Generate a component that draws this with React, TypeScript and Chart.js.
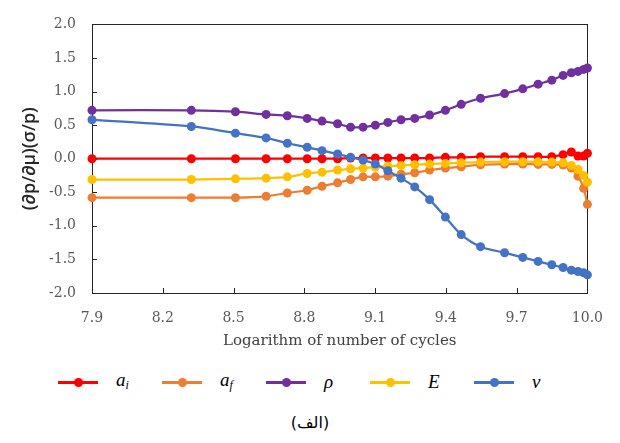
import { useEffect, useRef } from "react";
import { Chart, registerables } from "chart.js";

Chart.register(...registerables);

// ---- data ----
const cycles = [7.9, 8.321, 8.508, 8.638, 8.728, 8.812, 8.875, 8.941, 8.996, 9.049, 9.101, 9.154, 9.21, 9.268, 9.331, 9.398, 9.465, 9.547, 9.649, 9.726, 9.791, 9.849, 9.897, 9.932, 9.96, 9.984, 10.0];
const aI = [0, 0, 0, 0, 0, 0, 0, 0, 0.01, 0.01, 0.01, 0.01, 0.01, 0.01, 0.01, 0.02, 0.02, 0.03, 0.03, 0.03, 0.03, 0.03, 0.06, 0.1, 0.04, 0.04, 0.08];
const aF = [-0.58, -0.58, -0.58, -0.56, -0.51, -0.47, -0.41, -0.36, -0.31, -0.27, -0.27, -0.26, -0.23, -0.21, -0.17, -0.14, -0.12, -0.09, -0.08, -0.08, -0.085, -0.085, -0.095, -0.14, -0.26, -0.44, -0.68];
const rho = [0.72, 0.72, 0.7, 0.66, 0.64, 0.6, 0.56, 0.52, 0.47, 0.47, 0.5, 0.54, 0.58, 0.6, 0.65, 0.72, 0.81, 0.9, 0.97, 1.04, 1.11, 1.17, 1.24, 1.28, 1.3, 1.33, 1.35];
const modE = [-0.31, -0.31, -0.3, -0.29, -0.27, -0.22, -0.2, -0.17, -0.15, -0.14, -0.125, -0.11, -0.1, -0.09, -0.08, -0.07, -0.06, -0.05, -0.045, -0.045, -0.045, -0.05, -0.06, -0.1, -0.16, -0.25, -0.35];
const nu = [0.58, 0.48, 0.38, 0.31, 0.23, 0.17, 0.12, 0.07, 0.02, -0.02, -0.08, -0.18, -0.29, -0.42, -0.61, -0.87, -1.13, -1.31, -1.4, -1.47, -1.53, -1.58, -1.62, -1.66, -1.68, -1.7, -1.73];

const xTicks = [7.9, 8.2, 8.5, 8.8, 9.1, 9.4, 9.7, 10.0];
const yTicks = [-2.0, -1.5, -1.0, -0.5, 0.0, 0.5, 1.0, 1.5, 2.0];

const seriesNames = ["a_i", "a_f", "ρ", "E", "ν"];
const seriesValues = [aI, aF, rho, modE, nu];
const seriesColors = ["#FF0000", "#ED7D31", "#7030A0", "#FFC000", "#4472C4"];

const xTitle = "Logarithm of number of cycles";
const yTitle = "(∂p/∂μ)(σ/p)";
const caption = "(الف)";

// ---- layout constants ----
const W = 620;
const H = 443;
const CH = 360;
const legendMarkerX = [78, 182, 286, 390, 494];
const legendY = 382;

const framePlugin = {
  id: "frame",
  beforeDatasetsDraw(chart: any) {
    const { ctx, chartArea: a, scales } = chart;
    ctx.save();
    ctx.strokeStyle = "#262626";
    ctx.lineWidth = 1;
    ctx.strokeRect(Math.round(a.left) + 0.5, Math.round(a.top) + 0.5, Math.round(a.right - a.left), Math.round(a.bottom - a.top));
    ctx.beginPath();
    const xs = scales.x;
    xTicks.forEach((v) => {
      const px = Math.round(xs.getPixelForValue(v)) + 0.5;
      ctx.moveTo(px, a.bottom);
      ctx.lineTo(px, a.bottom - 5);
    });
    const ys = scales.y;
    yTicks.forEach((v) => {
      const py = Math.round(ys.getPixelForValue(v)) + 0.5;
      ctx.moveTo(a.left, py);
      ctx.lineTo(a.left + 5, py);
    });
    ctx.stroke();
    ctx.restore();
  },
};

function LegendLabel({ name }: { name: string }) {
  const base: any = { fontFamily: "'Liberation Serif', 'DejaVu Serif', serif", fontStyle: "italic", fontSize: 19, color: "#000" };
  if (name.includes("_")) {
    const [m, s] = name.split("_");
    return (
      <span style={base}>
        {m}
        <sub style={{ fontSize: 12, verticalAlign: "-3px" }}>{s}</sub>
      </span>
    );
  }
  return <span style={base}>{name}</span>;
}

export default function App() {
  const ref = useRef<HTMLCanvasElement | null>(null);

  useEffect(() => {
    if (!ref.current) return;
    const order = [4, 3, 2, 1, 0];
    const chart = new Chart(ref.current, {
      type: "line",
      data: {
        datasets: seriesValues.map((vals, i) => ({
          label: seriesNames[i],
          data: vals.map((v, j) => ({ x: cycles[j], y: v })),
          borderColor: seriesColors[i],
          backgroundColor: seriesColors[i],
          pointBackgroundColor: seriesColors[i],
          pointBorderColor: seriesColors[i],
          borderWidth: 2.25,
          pointRadius: 4.5,
          pointBorderWidth: 0,
          tension: 0.3,
          clip: false as any,
          order: order[i],
        })),
      },
      options: {
        animation: false,
        responsive: false,
        devicePixelRatio: 1,
        layout: { padding: { left: 0, right: 26, top: 15, bottom: 0 } },
        plugins: { legend: { display: false }, tooltip: { enabled: false } },
        scales: {
          x: {
            type: "linear",
            min: 7.9,
            max: 10.0,
            afterBuildTicks: (s: any) => {
              s.ticks = xTicks.map((v) => ({ value: v }));
            },
            afterFit: (s: any) => {
              s.height = 67;
            },
            grid: { display: false, drawTicks: false },
            border: { display: false },
            ticks: {
              autoSkip: false,
              maxRotation: 0,
              padding: 17,
              color: "#595959",
              font: { family: "'DejaVu Serif', serif", size: 14 },
              callback: (v: any) => Number(v).toFixed(1),
            },
            title: {
              display: true,
              text: xTitle,
              color: "#404040",
              font: { family: "'DejaVu Serif', serif", size: 15 },
              padding: { top: 0, bottom: 10 },
            },
          },
          y: {
            type: "linear",
            min: -2,
            max: 2,
            afterBuildTicks: (s: any) => {
              s.ticks = yTicks.map((v) => ({ value: v }));
            },
            afterFit: (s: any) => {
              s.width = 92;
            },
            grid: { display: false, drawTicks: false },
            border: { display: false },
            ticks: {
              autoSkip: false,
              padding: 16,
              color: "#595959",
              font: { family: "'DejaVu Serif', serif", size: 14 },
              callback: (v: any) => Number(v).toFixed(1),
            },
            title: {
              display: true,
              text: yTitle,
              color: "#262626",
              font: { family: "'Open Sans', 'Liberation Sans', sans-serif", size: 18, weight: "600" },
              padding: { top: 19, bottom: 0 },
            },
          },
        },
      },
      plugins: [framePlugin],
    });
    return () => chart.destroy();
  }, []);

  return (
    <div style={{ position: "absolute", left: 0, top: 0, width: W, height: H, background: "#fff", overflow: "hidden" }}>
      <canvas ref={ref} width={W} height={CH} style={{ position: "absolute", left: 0, top: 0, width: W, height: CH }} />
      {seriesNames.map((n, i) => (
        <div key={n} style={{ position: "absolute", left: legendMarkerX[i] - 20, top: legendY - 15, height: 30, display: "flex", alignItems: "center" }}>
          <div style={{ position: "relative", width: 40, height: 30 }}>
            <div style={{ position: "absolute", left: 0, top: 14, width: 40, height: 2.5, background: seriesColors[i] }} />
            <div style={{ position: "absolute", left: 15.5, top: 10.75, width: 9, height: 9, borderRadius: "50%", background: seriesColors[i] }} />
          </div>
          <div style={{ marginLeft: 18, lineHeight: "30px" }}>
            <LegendLabel name={n} />
          </div>
        </div>
      ))}
      <div style={{ position: "absolute", left: 0, width: W, top: 411, textAlign: "center", fontFamily: "'DejaVu Sans', sans-serif", fontSize: 16, color: "#000", lineHeight: "24px" }}>
        <span dir="rtl">{caption}</span>
      </div>
    </div>
  );
}
